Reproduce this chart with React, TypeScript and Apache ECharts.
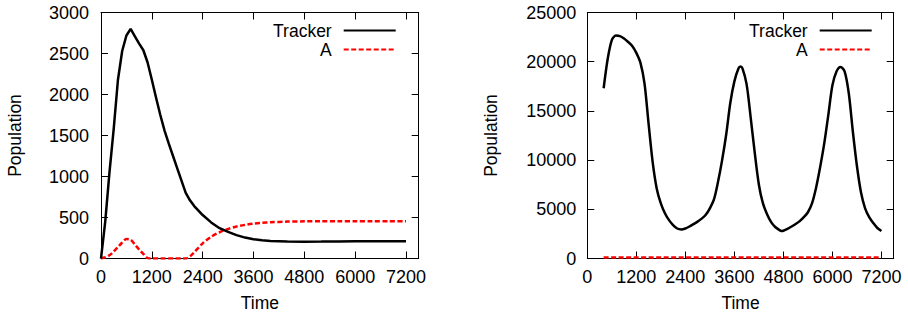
import React, { useEffect, useRef } from 'react';
import * as echarts from 'echarts';

// ---- Left panel data ----
const leftTime = [0, 100, 200, 300, 400, 500, 600, 700, 800, 900, 1000, 1100, 1200, 1300, 1400, 1500, 1600, 1700, 1800, 1900, 2000, 2100, 2200, 2400, 2600, 2800, 3000, 3200, 3400, 3600, 3800, 4000, 4400, 4800, 5200, 5600, 6000, 6400, 6800, 7200];
const leftTracker = [0, 450, 1050, 1580, 2180, 2530, 2720, 2800, 2710, 2620, 2540, 2390, 2180, 1960, 1750, 1560, 1400, 1250, 1100, 950, 800, 710, 640, 530, 440, 370, 325, 285, 255, 235, 222, 214, 207, 205, 206, 208, 209, 210, 210, 210];
const leftA = [0, 15, 40, 85, 140, 195, 238, 228, 170, 110, 55, 5, 0, 0, 0, 0, 0, 0, 0, 0, 0, 25, 75, 185, 265, 320, 360, 390, 410, 425, 435, 442, 450, 453, 455, 455, 455, 455, 455, 455];

// ---- Right panel data ----
const rightTime = [400, 500, 600, 700, 800, 900, 1000, 1100, 1200, 1300, 1400, 1500, 1600, 1700, 1800, 1900, 2000, 2100, 2200, 2300, 2400, 2500, 2600, 2700, 2800, 2900, 3000, 3100, 3200, 3300, 3400, 3500, 3600, 3700, 3750, 3800, 3900, 4000, 4100, 4200, 4300, 4400, 4500, 4600, 4700, 4750, 4800, 4900, 5000, 5100, 5200, 5300, 5400, 5500, 5600, 5700, 5800, 5900, 6000, 6100, 6200, 6300, 6400, 6500, 6600, 6700, 6800, 6900, 7000, 7100, 7200];
const rightTracker = [17300, 20300, 22200, 22650, 22600, 22350, 22000, 21600, 20900, 19900, 17800, 13700, 9800, 7100, 5600, 4600, 3900, 3400, 3050, 2950, 3050, 3250, 3500, 3750, 4050, 4450, 5100, 6000, 7800, 10000, 12600, 15800, 18000, 19300, 19500, 19300, 17700, 14300, 10700, 7500, 5600, 4500, 3700, 3200, 2900, 2800, 2820, 3000, 3250, 3500, 3800, 4200, 4700, 5600, 7200, 9300, 11700, 14600, 17600, 19000, 19450, 19000, 16800, 12900, 9400, 6700, 5100, 4200, 3600, 3100, 2800];
const rightATime = [400, 1200, 2400, 3600, 4800, 6000, 7200];
const rightA = [100, 100, 100, 100, 100, 100, 100];

// ---- Axes ----
const xMax = 7500;
const xInterval = 1200;
const leftYMax = 3000;
const leftYInterval = 500;
const rightYMax = 25000;
const rightYInterval = 5000;
const seriesNames = ['Tracker', 'A'];

const FONT = '"Liberation Sans", Arial, Helvetica, sans-serif';

const pairs = (t: number[], v: number[]) => t.map((x, i) => [x, v[i]]);

export default function App() {
  const ref = useRef<HTMLDivElement>(null);
  useEffect(() => {
    if (!ref.current) return;
    const chart = echarts.init(ref.current, null, { renderer: 'svg' });
    const text = { fontSize: 17.5, color: '#000', fontFamily: FONT };
    const tickText = { fontSize: 18, color: '#000', fontFamily: FONT };
    const line = { show: true, onZero: false, lineStyle: { color: '#000', width: 1 } };
    const tick = { show: true, inside: true, length: 7, lineStyle: { color: '#000', width: 1 } };

    const xAxis = (gridIndex: number, main: boolean) => ({
      type: 'value', gridIndex, position: main ? 'bottom' : 'top',
      min: 0, max: xMax, interval: xInterval,
      axisLine: line, axisTick: tick, splitLine: { show: false },
      axisLabel: {
        show: main, margin: 9.5, ...tickText,
        formatter: (v: number) => (v > 7200 ? '' : String(v)),
      },
      name: main ? 'Time' : '', nameLocation: 'middle', nameGap: 35.5,
      nameTextStyle: text,
    });
    const yAxis = (gridIndex: number, main: boolean, max: number, interval: number, gap: number, margin: number) => ({
      type: 'value', gridIndex, position: main ? 'left' : 'right',
      min: 0, max, interval,
      axisLine: line, axisTick: tick, splitLine: { show: false },
      axisLabel: { show: main, margin, ...tickText, formatter: (v: number) => String(v) },
      name: main ? 'Population' : '', nameLocation: 'middle', nameGap: gap,
      nameTextStyle: text,
    });
    const legend = (right: number) => ({
      data: seriesNames, orient: 'vertical', align: 'right', right, top: 21.5,
      itemWidth: 52, itemHeight: 12, itemGap: 1, padding: 0, selectedMode: false,
      itemStyle: { opacity: 0, borderWidth: 0 },
      textStyle: { ...text, lineHeight: 17, padding: [0, 7, 0, 0] },
    });
    const trackerStyle = { color: '#000', width: 2.5 };
    const aStyle = { color: '#ff0000', width: 2.5, type: [5, 2.5] };

    chart.setOption({
      animation: false,
      backgroundColor: '#fff',
      grid: [
        { left: 101, top: 12.5, width: 317.7, height: 246.2 },
        { left: 587.3, top: 12.5, width: 306.4, height: 246.2 },
      ],
      xAxis: [xAxis(0, true), xAxis(0, false), xAxis(1, true), xAxis(1, false)],
      yAxis: [
        yAxis(0, true, leftYMax, leftYInterval, 77.5, 12),
        yAxis(0, false, leftYMax, leftYInterval, 0, 12),
        yAxis(1, true, rightYMax, rightYInterval, 87.5, 11),
        yAxis(1, false, rightYMax, rightYInterval, 0, 11),
      ],
      legend: [legend(511.3), legend(35.3)],
      series: [
        { type: 'line', name: 'Tracker', xAxisIndex: 0, yAxisIndex: 0, data: pairs(leftTime, leftTracker), symbol: 'none', lineStyle: trackerStyle, itemStyle: { color: '#000' }, z: 3 },
        { type: 'line', name: 'A', xAxisIndex: 0, yAxisIndex: 0, data: pairs(leftTime, leftA), symbol: 'none', smooth: 0.3, lineStyle: aStyle, itemStyle: { color: '#ff0000' }, z: 2 },
        { type: 'line', name: 'Tracker', xAxisIndex: 2, yAxisIndex: 2, data: pairs(rightTime, rightTracker), symbol: 'none', smooth: 0.3, lineStyle: trackerStyle, itemStyle: { color: '#000' }, z: 3 },
        { type: 'line', name: 'A', xAxisIndex: 2, yAxisIndex: 2, data: pairs(rightATime, rightA), symbol: 'none', lineStyle: aStyle, itemStyle: { color: '#ff0000' }, z: 2 },
      ],
    });
    return () => chart.dispose();
  }, []);
  return <div ref={ref} style={{ position: 'absolute', left: 0, top: 0, width: 908, height: 317 }} />;
}
